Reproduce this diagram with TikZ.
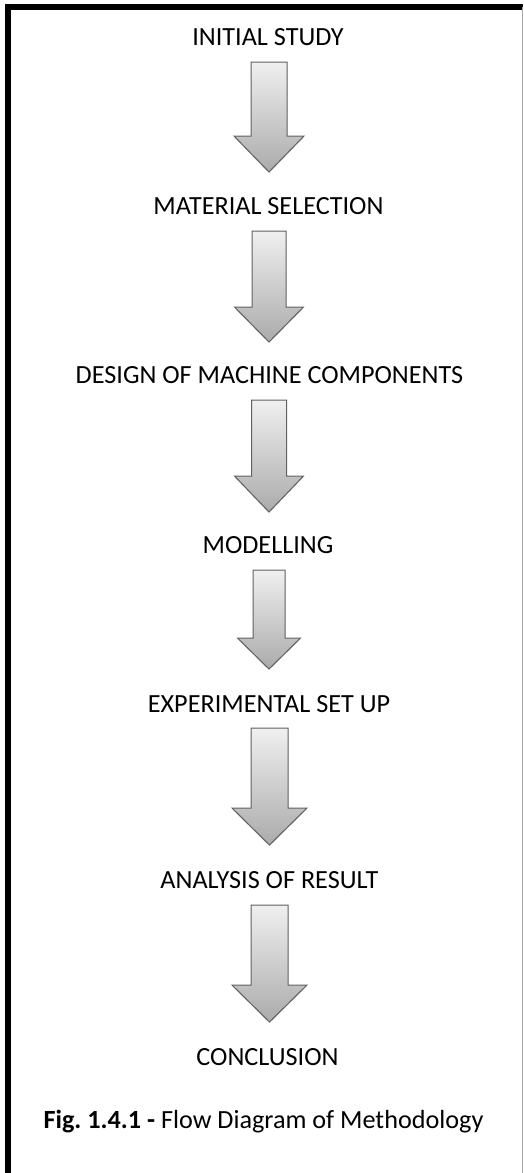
\documentclass[tikz,border=0pt]{standalone}
\usepackage{fontspec}
\setmainfont{Carlito}
\usetikzlibrary{shadows}
\frenchspacing
\newcommand\blockarrow[7]{% name, x centre, top, base, tip, half shaft, half head
  \path[barrow] ({#2-#6},{#3}) -- ({#2+#6},{#3}) -- ({#2+#6},{#4}) -- ({#2+#7},{#4})
    -- ({#2},{#5}) coordinate (#1) -- ({#2-#7},{#4}) -- ({#2-#6},{#4}) -- cycle;}
\begin{document}
\begin{tikzpicture}[x=1pt,y=-1pt,
  lbl/.style={anchor=base, inner sep=0pt, font=\fontsize{26.2}{30}\selectfont},
  barrow/.style={draw=black!62, line width=1pt, top color=black!6, bottom color=black!33,
    line join=miter, drop shadow={opacity=0.25, shadow xshift=0pt, shadow yshift=-1.2pt}},
  frame/.style={line width=6pt}]
\useasboundingbox (0,0) rectangle (523,1173);
\fill[white] (0,0) rectangle (523,1173);
\draw[frame] (8,1173) -- (8,7) -- (523,7);
\draw[black!35, line width=1pt] (522.5,7) -- (522.5,1173);

\node[lbl] (t1) at (268,45) {INITIAL STUDY};
\node[lbl] (t2) at (268.5,214) {MATERIAL SELECTION};
\node[lbl] (t3) at (269.5,383) {DESIGN OF MACHINE COMPONENTS};
\node[lbl] (t4) at (268,553) {MODELLING};
\node[lbl] (t5) at (269,712) {EXPERIMENTAL SET UP};
\node[lbl] (t6) at (269.5,888) {ANALYSIS OF RESULT};
\node[lbl] (t7) at (267.5,1065) {CONCLUSION};
\node[lbl] (cap) at (263.5,1128) {\textbf{Fig. 1.4.1 -} Flow Diagram of Methodology};

\blockarrow{a1}{269}{62}{136}{172}{18}{35}
\blockarrow{a2}{269}{231}{307}{342}{17}{34.5}
\blockarrow{a3}{269}{400}{476}{512}{17.5}{34.5}
\blockarrow{a4}{269}{570}{638}{669}{16}{31.5}
\blockarrow{a5}{269.5}{728}{808}{845}{18.5}{37.5}
\blockarrow{a6}{269.5}{905}{985}{1022}{18.5}{37.5}
\end{tikzpicture}
\end{document}
